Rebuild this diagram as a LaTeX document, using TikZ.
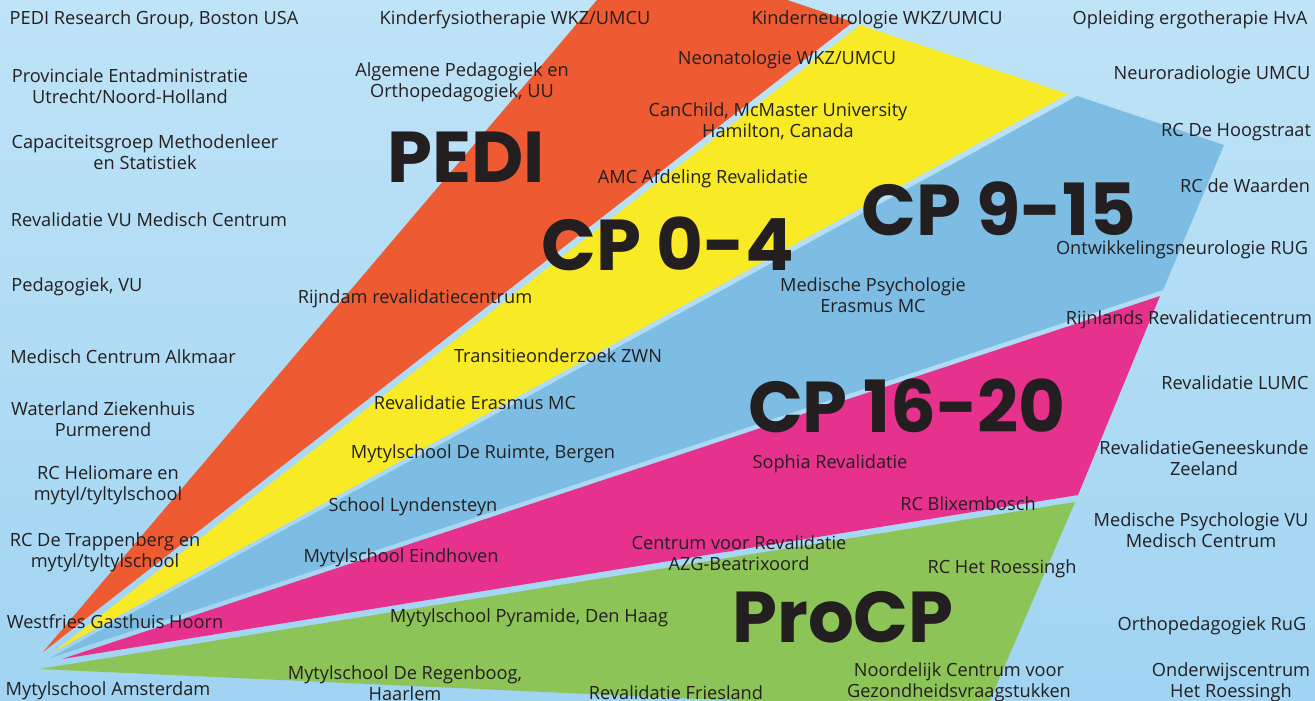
\documentclass[tikz,border=0pt]{standalone}
\usepackage{fontspec}
\setmainfont{Open Sans}
\newfontfamily\groupfont{Poppins}
\usepackage{tikz}
\definecolor{skytop}{HTML}{BFE3F7}
\definecolor{skybot}{HTML}{A0D4F2}
\definecolor{pedired}{HTML}{EE5A32}
\definecolor{cpyellow}{HTML}{F8EB25}
\definecolor{cpblue}{HTML}{7DBCE3}
\definecolor{cppink}{HTML}{E6318D}
\definecolor{procpgreen}{HTML}{8DC457}
\definecolor{inkgray}{HTML}{231F20}
\tikzset{
  orgnode/.style={align=center,inner sep=0pt,text=inkgray,font=\fontsize{18.2}{21}\selectfont},
  grpnode/.style={inner sep=0pt,text=inkgray,font=\groupfont\bfseries\fontsize{72}{72}\selectfont},
  wedge/.style={draw=none},
}

\begin{document}
\begin{tikzpicture}[x=1pt,y=-1pt]
  \useasboundingbox (0,0) rectangle (1315,701);
  \shade[top color=skytop,bottom color=skybot] (0,0) rectangle (1315,701);
  \begin{scope}
    \clip (0,0) rectangle (1315,701);
    \fill[wedge,pedired] (43,652) -- (614,-20) -- (727,-20) -- (853,22) -- cycle;
    \fill[wedge,cpyellow] (55,651) -- (860,25) -- (1068,94) -- cycle;
    \fill[wedge,cpblue] (50,658) -- (1077,96) -- (1224,145) -- (1163,290) -- cycle;
    \fill[wedge,cppink] (62,659) -- (1160,296) -- (1078,495) -- cycle;
    \fill[wedge,procpgreen] (39,669) -- (1075,502) -- (985,712) -- cycle;
  \end{scope}
  % research groups
  \node[grpnode] (gPEDI) at (466,157) {PEDI};
  \node[grpnode] (gCP04) at (668,244) {CP 0-4};
  \node[grpnode] (gCP915) at (999,209) {CP 9-15};
  \node[grpnode] (gCP1620) at (907,406) {CP 16-20};
  \node[grpnode] (gProCP) at (843,617) {ProCP};
  % left column
  \node[orgnode] (oBoston) at (154,20) {PEDI Research Group, Boston USA};
  \node[orgnode] (oUtrecht) at (130,86) {Provinciale Entadministratie\\Utrecht/Noord-Holland};
  \node[orgnode] (oMethoden) at (145,152) {Capaciteitsgroep Methodenleer\\en Statistiek};
  \node[orgnode] (oVUrev) at (149,220) {Revalidatie VU Medisch Centrum};
  \node[orgnode] (oVUped) at (77,287) {Pedagogiek, VU};
  \node[orgnode] (oAlkmaar) at (123,357) {Medisch Centrum Alkmaar};
  \node[orgnode] (oWaterland) at (103,419) {Waterland Ziekenhuis\\Purmerend};
  \node[orgnode] (oHeliomare) at (108,485) {RC Heliomare en\\mytyl/tyltylschool};
  \node[orgnode] (oTrappenberg) at (105,552) {RC De Trappenberg en\\mytyl/tyltylschool};
  \node[orgnode] (oHoorn) at (115,622) {Westfries Gasthuis Hoorn};
  \node[orgnode] (oAmsterdam) at (108,691) {Mytylschool Amsterdam};
  % middle column
  \node[orgnode] (oKinderfysio) at (515,20) {Kinderfysiotherapie WKZ/UMCU};
  \node[orgnode] (oUUped) at (462,82) {Algemene Pedagogiek en\\Orthopedagogiek, UU};
  \node[orgnode] (oRijndam) at (415,299) {Rijndam revalidatiecentrum};
  \node[orgnode] (oZWN) at (558,356) {Transitieonderzoek ZWN};
  \node[orgnode] (oErasmusrev) at (475,403) {Revalidatie Erasmus MC};
  \node[orgnode] (oBergen) at (483,454) {Mytylschool De Ruimte, Bergen};
  \node[orgnode] (oLyndensteyn) at (413,507) {School Lyndensteyn};
  \node[orgnode] (oEindhoven) at (401,558) {Mytylschool Eindhoven};
  \node[orgnode] (oPyramide) at (529,618) {Mytylschool Pyramide, Den Haag};
  \node[orgnode] (oRegenboog) at (405,683) {Mytylschool De Regenboog,\\Haarlem};
  \node[orgnode] (oFriesland) at (676,693) {Revalidatie Friesland};
  % centre column
  \node[orgnode] (oKinderneuro) at (877,20) {Kinderneurologie WKZ/UMCU};
  \node[orgnode] (oNeonat) at (787,60) {Neonatologie WKZ/UMCU};
  \node[orgnode] (oCanChild) at (778,121) {CanChild, McMaster University\\Hamilton, Canada};
  \node[orgnode] (oAMC) at (703,179) {AMC Afdeling Revalidatie};
  \node[orgnode] (oErasmuspsy) at (873,295) {Medische Psychologie\\Erasmus MC};
  \node[orgnode] (oSophia) at (830,464) {Sophia Revalidatie};
  \node[orgnode] (oBlixembosch) at (968,504) {RC Blixembosch};
  \node[orgnode] (oBeatrix) at (739,553) {Centrum voor Revalidatie\\AZG-Beatrixoord};
  \node[orgnode] (oRoessingh) at (1002,569) {RC Het Roessingh};
  \node[orgnode] (oNCG) at (959,682) {Noordelijk Centrum voor\\Gezondheidsvraagstukken};
  % right column
  \node[orgnode] (oHvA) at (1190,20) {Opleiding ergotherapie HvA};
  \node[orgnode] (oNeurorad) at (1212,75) {Neuroradiologie UMCU};
  \node[orgnode] (oHoogstraat) at (1236,132) {RC De Hoogstraat};
  \node[orgnode] (oWaarden) at (1245,186) {RC de Waarden};
  \node[orgnode] (oRUGneuro) at (1182,250) {Ontwikkelingsneurologie RUG};
  \node[orgnode] (oRijnlands) at (1189,320) {Rijnlands Revalidatiecentrum};
  \node[orgnode] (oLUMC) at (1235,383) {Revalidatie LUMC};
  \node[orgnode] (oZeeland) at (1204,458) {RevalidatieGeneeskunde\\Zeeland};
  \node[orgnode] (oVUpsy) at (1201,530) {Medische Psychologie VU\\Medisch Centrum};
  \node[orgnode] (oRuG) at (1212,626) {Orthopedagogiek RuG};
  \node[orgnode] (oOnderwijs) at (1231,682) {Onderwijscentrum\\Het Roessingh};
\end{tikzpicture}
\end{document}
